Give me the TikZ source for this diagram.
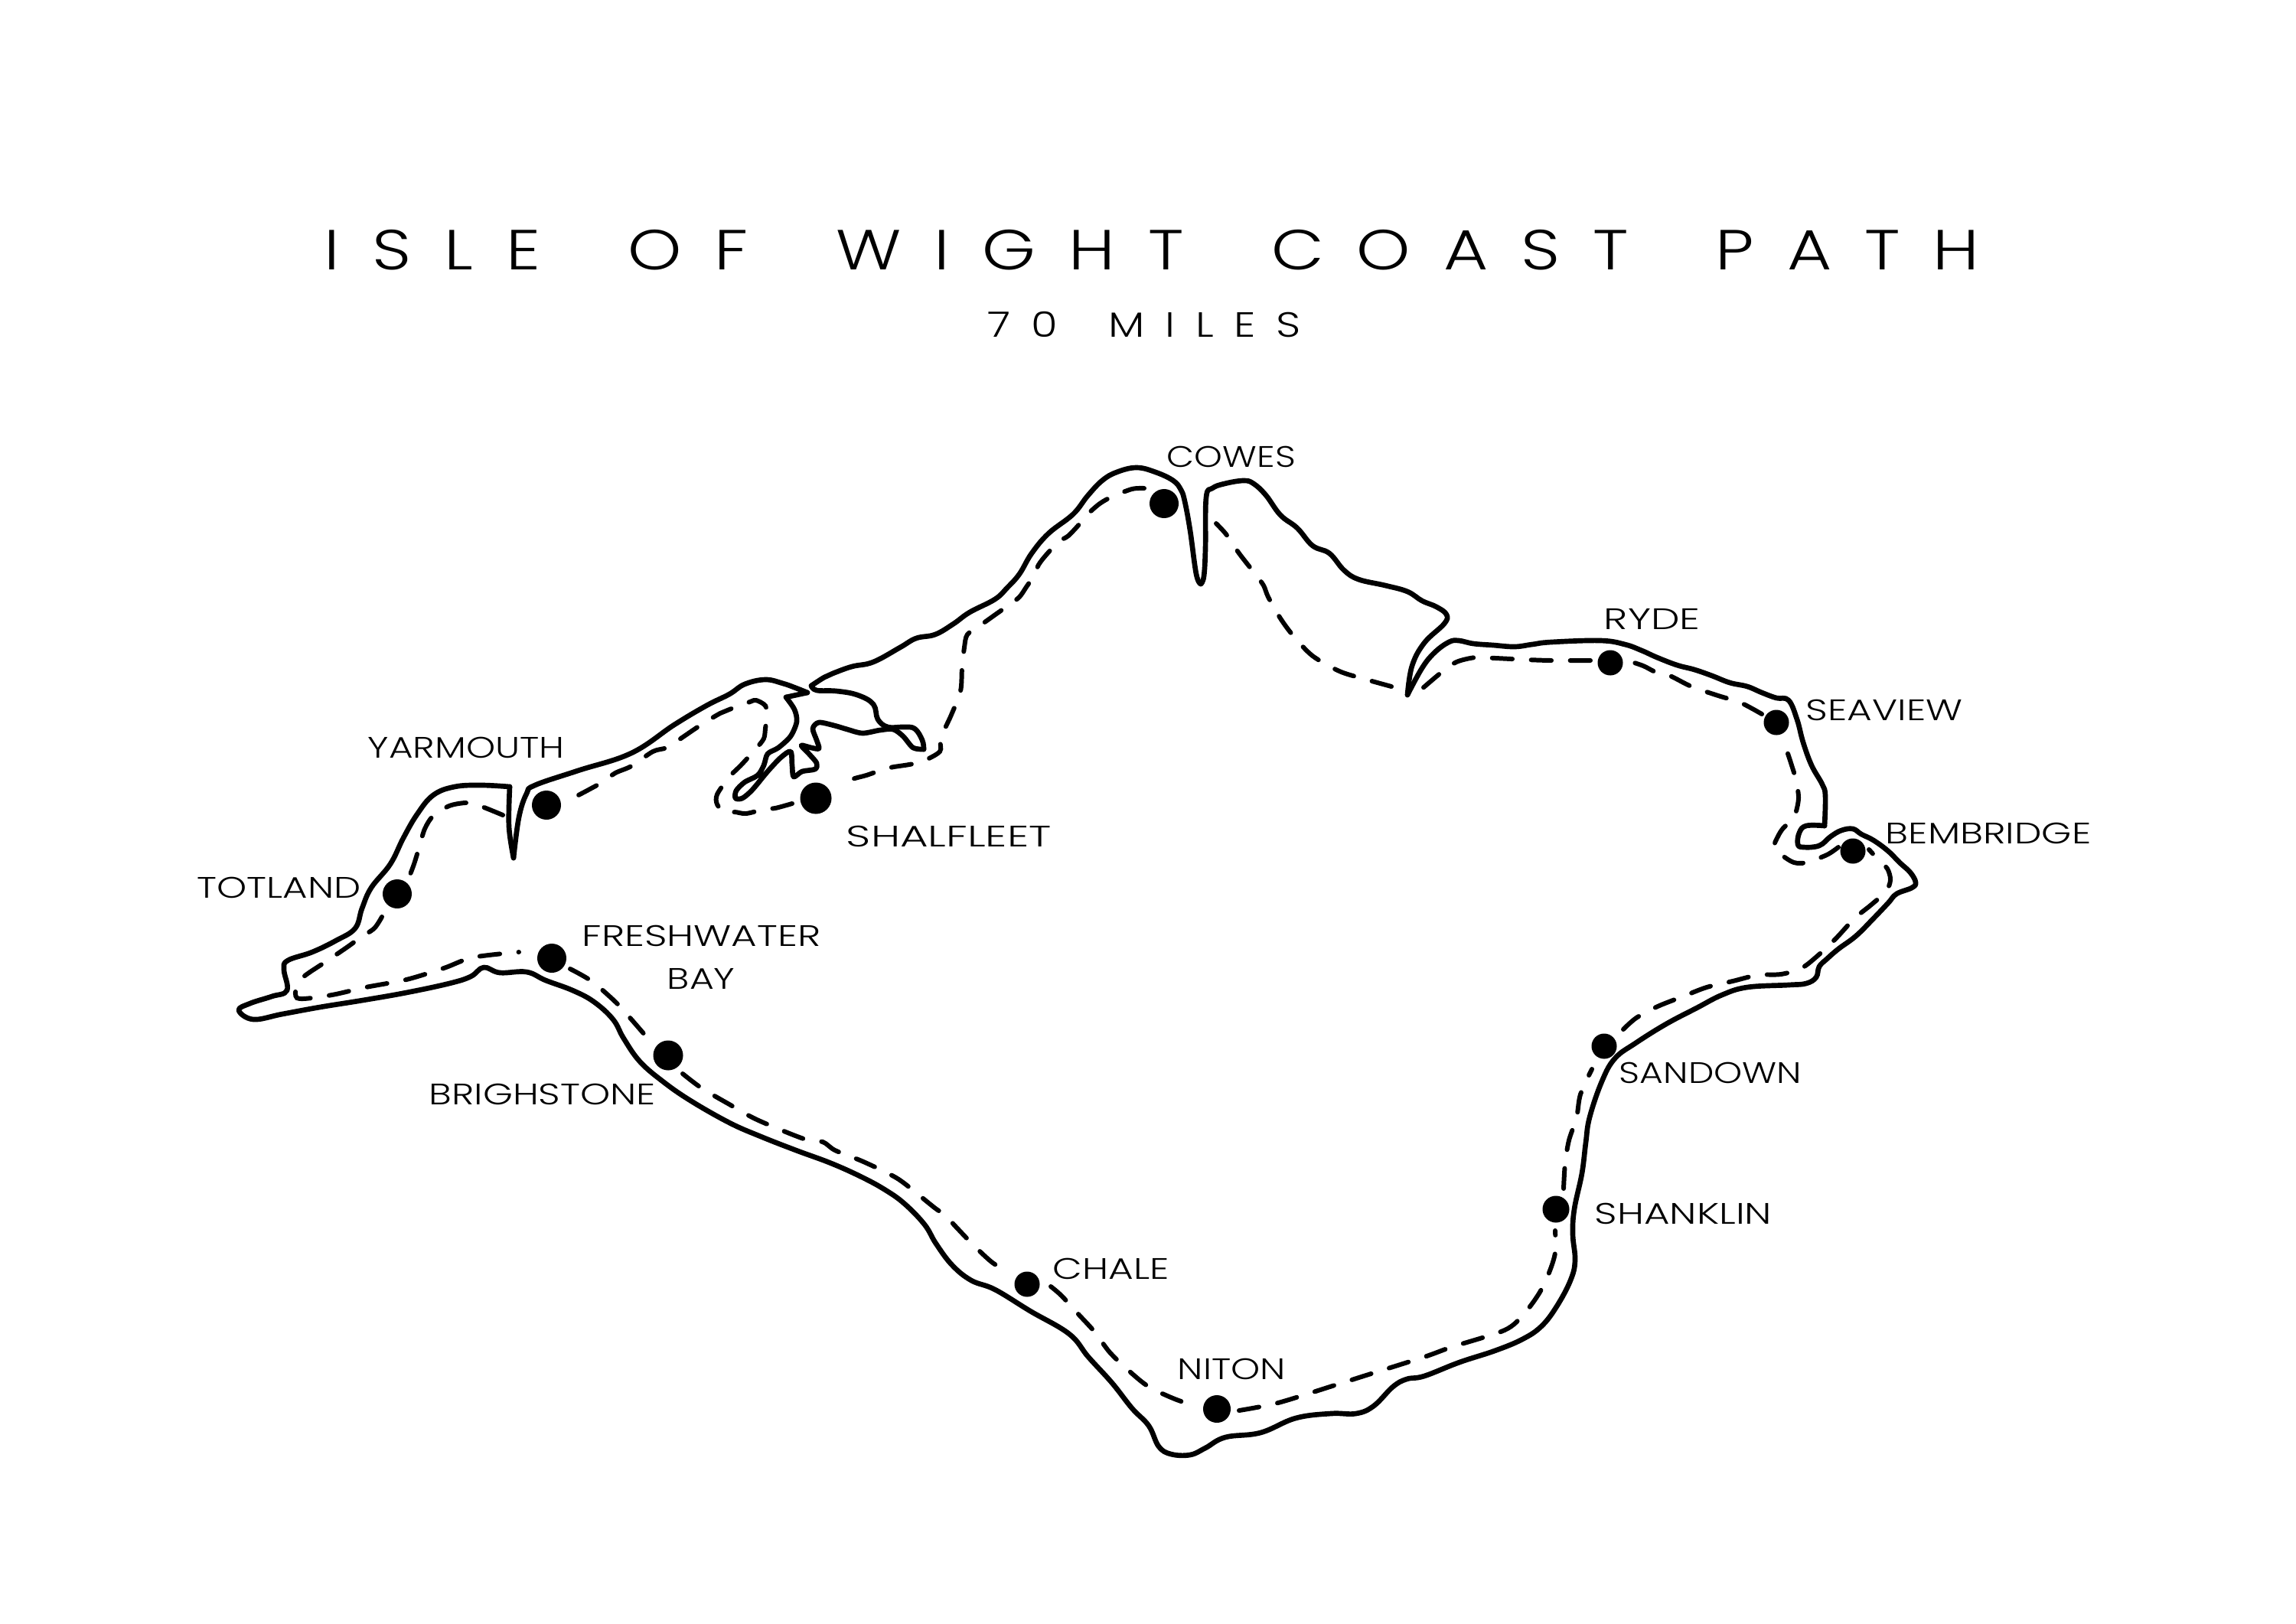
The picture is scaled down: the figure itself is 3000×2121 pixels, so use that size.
\documentclass[tikz,border=0pt]{standalone}
\usepackage{fontspec}
\newfontfamily\placefont{Poppins Light}[FakeStretch=1.1]
\newfontfamily\headfont{Poppins Light}[FakeStretch=1.21,LetterSpace=58,WordSpace=1.7]
\newfontfamily\subheadfont{Poppins Light}[FakeStretch=1.23,LetterSpace=58,WordSpace=1.6]
\tikzset{
  coastline/.style={line width=1.9pt,line cap=round,line join=round},
  routedash/.style={line width=1.7pt,line cap=round,dash pattern=on 7.5pt off 7pt},
  stopdot/.style={circle,fill=black,inner sep=0pt,minimum size=#1},
  placelabel/.style={anchor=base west,inner sep=0pt,transform shape,xscale=#1,font=\placefont\fontsize{11}{13}\selectfont},
}
\begin{document}
\begin{tikzpicture}[x=0.01cm,y=-0.01cm]
        \useasboundingbox (0,0) rectangle (3000,2121);
        % title
        \node[anchor=base west,inner sep=0pt,font=\headfont\fontsize{21}{25}\selectfont] (title) at (423,352) {ISLE OF WIGHT COAST PATH};
        \node[anchor=base west,inner sep=0pt,font=\subheadfont\fontsize{13}{16}\selectfont] (miles) at (1290,440) {70 MILES};
        % coast
        \draw[coastline] plot[smooth,tension=0.6] coordinates {(671,1121) (665,1080) (666,1028)};
        \draw[coastline] plot[smooth,tension=0.65] coordinates {(666,1028) (629,1026) (594,1028) (566,1039) (545,1064) (527,1095) (510,1129) (485,1160) (473,1187) (464,1213) (439,1229) (408,1244) (376,1255) (371,1267) (375,1294) (355,1302) (327,1311) (312,1320) (331,1332) (369,1325) (418,1316) (474,1307) (531,1297) (587,1285) (615,1276) (632,1264) (653,1271) (688,1270) (713,1281) (748,1294) (776,1309) (801,1332) (815,1357) (836,1387) (866,1413) (902,1438) (953,1467) (994,1485) (1040,1503) (1086,1520) (1126,1538) (1157,1555) (1182,1573) (1208,1600) (1223,1625) (1244,1653) (1269,1673) (1300,1685) (1346,1713) (1397,1743) (1422,1773) (1453,1807) (1479,1840) (1501,1863) (1514,1890) (1530,1900) (1555,1901) (1575,1892) (1601,1878) (1647,1872) (1693,1853) (1739,1847) (1772,1847) (1795,1837) (1820,1812) (1838,1802) (1861,1798) (1907,1780) (1953,1765) (1989,1750) (2014,1733) (2034,1707) (2052,1673) (2058,1647) (2055,1613) (2057,1580) (2067,1533) (2072,1493) (2077,1460) (2093,1413) (2110,1383) (2137,1363) (2177,1338) (2217,1317) (2250,1300) (2283,1290) (2337,1287) (2360,1285) (2373,1277) (2377,1263) (2387,1253) (2402,1240) (2425,1223) (2448,1200) (2467,1180) (2478,1168) (2498,1160) (2503,1153) (2496,1140) (2482,1127) (2467,1112) (2448,1098) (2432,1090) (2421,1083) (2406,1085) (2392,1093) (2377,1105) (2356,1107) (2349,1103) (2351,1088) (2360,1079) (2384,1079)};
        \draw[coastline] plot[smooth,tension=0.65] coordinates {(2384,1079) (2385,1040) (2381,1025) (2367,1000) (2356,970) (2348,940) (2337,915) (2321,912) (2302,905) (2283,897) (2260,892) (2237,883) (2214,875) (2191,869) (2165,859) (2145,850) (2123,842) (2091,837) (2027,839) (2002,842) (1979,845) (1951,843) (1925,841) (1906,837) (1893,839) (1874,853) (1858,873) (1839,908)};
        \draw[coastline] plot[smooth,tension=0.65] coordinates {(1839,908) (1845,870) (1861,840) (1887,815) (1890,803) (1877,793) (1858,785) (1839,773) (1810,765) (1775,757) (1756,745) (1737,723) (1715,713) (1695,690) (1673,673) (1654,647) (1638,632) (1625,628) (1600,632) (1584,638) (1576,650) (1575,717) (1573,753) (1569,763)};
        \draw[coastline] plot[smooth,tension=0.65] coordinates {(1569,763) (1563,750) (1555,693) (1548,655) (1543,640) (1533,628) (1510,617) (1485,611) (1459,617) (1440,628) (1421,648) (1402,672) (1370,697) (1348,723) (1332,750) (1316,768) (1300,783) (1267,800) (1246,815) (1222,829) (1197,834) (1176,846) (1141,865) (1113,871) (1088,880) (1077,885) (1060,896)};
        \draw[coastline] plot[smooth,tension=0.65] coordinates {(1060,896) (1067,902) (1093,903) (1120,908) (1141,920) (1147,940) (1160,950) (1180,950) (1195,952) (1205,967) (1207,979)};
        \draw[coastline] plot[smooth,tension=0.5] coordinates {(1207,979) (1193,977) (1180,962) (1167,953) (1150,954) (1127,958) (1107,953) (1090,948) (1070,944) (1062,952) (1067,967) (1070,978) (1060,977) (1047,974) (1057,985) (1067,997) (1065,1005) (1048,1008) (1037,1015) (1035,1000) (1033,982) (1020,990) (1003,1008) (983,1032) (970,1043) (961,1043) (962,1033) (973,1022) (990,1013) (998,1000) (1003,985) (1017,977) (1033,962) (1041,943) (1038,927) (1027,911)};
        \draw[coastline] (1027,911) -- (1055,905);
        \draw[coastline] plot[smooth,tension=0.65] coordinates {(1055,905) (1040,899) (1023,893) (1000,888) (973,894) (953,907) (923,922) (881,947) (825,984) (755,1007) (699,1026) (688,1037) (678,1068) (671,1121)};
        % route
        \draw[routedash] plot[smooth] coordinates {(657,1065) (622,1051) (608,1049) (587,1053) (566,1066) (555,1083) (548,1106) (541,1129) (533,1150)};
        \draw[routedash] plot[smooth] coordinates {(499,1198) (489,1213) (471,1225) (453,1238) (425,1257) (397,1276) (387,1290) (388,1304) (408,1304) (439,1299) (478,1290) (531,1280) (580,1265) (618,1251) (678,1244)};
        \draw[routedash] plot[smooth] coordinates {(745,1266) (773,1282) (804,1309) (825,1332) (850,1361)};
        \draw[routedash] plot[smooth] coordinates {(892,1403) (917,1422) (953,1443) (989,1463) (1050,1488) (1075,1492) (1091,1503) (1126,1517) (1160,1533) (1180,1545) (1221,1578) (1234,1587) (1249,1603) (1272,1627) (1297,1650) (1320,1663)};
        \draw[routedash] plot[smooth] coordinates {(1373,1681) (1387,1693) (1407,1715) (1430,1740) (1450,1767) (1476,1792) (1501,1812) (1535,1828) (1565,1838)};
        \draw[routedash] plot[smooth] coordinates {(1619,1843) (1670,1833) (1744,1810) (1785,1797) (1861,1773) (1897,1760) (1966,1738) (1991,1717) (2011,1690) (2024,1663) (2032,1637) (2032,1608)};
        \draw[routedash] plot[smooth] coordinates {(2043,1553) (2045,1520) (2050,1490) (2060,1460) (2065,1430) (2080,1397)};
        \draw[routedash] plot[smooth] coordinates {(2121,1345) (2138,1330) (2166,1315) (2199,1302) (2230,1290) (2264,1282) (2297,1274) (2327,1273) (2354,1265) (2377,1247) (2400,1225) (2423,1200) (2444,1183) (2464,1165) (2470,1150) (2466,1135) (2453,1122) (2442,1110)};
        \draw[routedash] plot[smooth] coordinates {(2402,1107) (2387,1117) (2360,1127) (2344,1127) (2329,1118) (2318,1107) (2323,1093) (2330,1082) (2344,1068) (2350,1043) (2346,1017) (2341,1000) (2335,982) (2327,963)};
        \draw[routedash] plot[smooth] coordinates {(2302,933) (2274,918) (2245,909) (2210,897) (2182,883) (2163,878) (2147,870) (2126,863)};
        \draw[routedash] plot[smooth] coordinates {(2078,863) (2027,863) (1995,862) (1954,860) (1928,859) (1903,865) (1884,878) (1858,900)};
        \draw[routedash] plot[smooth] coordinates {(1818,897) (1782,887) (1750,877) (1715,857) (1690,831) (1673,808) (1657,780) (1651,765) (1640,750) (1619,723) (1602,698) (1589,684)};
        \draw[routedash] plot[smooth] coordinates {(1495,638) (1479,639) (1453,649) (1437,658) (1421,672) (1412,683) (1396,700) (1383,708) (1367,725) (1357,738) (1351,752) (1341,767) (1332,780) (1319,790) (1302,802) (1281,817) (1264,829) (1260,846) (1257,873) (1255,903) (1243,934) (1229,965) (1228,982) (1205,995) (1188,999) (1168,1002) (1158,1004) (1132,1013) (1117,1017) (1098,1024)};
        \draw[routedash] plot[smooth] coordinates {(1035,1050) (1013,1056) (1000,1057) (975,1063) (960,1061) (947,1062) (937,1051) (937,1038) (953,1015) (968,1000) (988,978) (998,965) (1000,952) (1002,935) (1000,922) (988,915) (980,917) (953,927) (941,932) (916,947) (888,966) (871,977) (853,982) (825,1001) (804,1010) (787,1022) (769,1032) (752,1041)};
        % stops
        \node[stopdot=0.38cm] (totland) at (519,1168) {};
        \node[stopdot=0.38cm] (yarmouth) at (714,1052) {};
        \node[stopdot=0.41cm] (shalfleet) at (1066,1043) {};
        \node[stopdot=0.38cm] (freshwater) at (721,1252) {};
        \node[stopdot=0.39cm] (brighstone) at (873,1379) {};
        \node[stopdot=0.33cm] (chale) at (1342,1678) {};
        \node[stopdot=0.36cm] (niton) at (1590,1841) {};
        \node[stopdot=0.35cm] (shanklin) at (2033,1580) {};
        \node[stopdot=0.33cm] (sandown) at (2096,1367) {};
        \node[stopdot=0.33cm] (seaview) at (2321,944) {};
        \node[stopdot=0.33cm] (bembridge) at (2421,1112) {};
        \node[stopdot=0.33cm] (ryde) at (2104,866) {};
        \node[stopdot=0.38cm] (cowes) at (1521,658) {};
        % labels
        \node[placelabel=1.17] (totlandlabel) at (257,1173) {TOTLAND};
        \node[placelabel=1.14] (yarmouthlabel) at (480,990) {YARMOUTH};
        \node[placelabel=1.32] (shalfleetlabel) at (1105,1106) {SHALFLEET};
        \node[placelabel=1.21] (freshwaterlabel) at (760,1236) {FRESHWATER};
        \node[placelabel=1.15] (baylabel) at (871,1292) {BAY};
        \node[placelabel=1.17] (brighstonelabel) at (560,1443) {BRIGHSTONE};
        \node[placelabel=1.18] (chalelabel) at (1375,1671) {CHALE};
        \node[placelabel=1.14] (nitonlabel) at (1538,1802) {NITON};
        \node[placelabel=1.10] (coweslabel) at (1524,610) {COWES};
        \node[placelabel=1.25] (rydelabel) at (2095,822) {RYDE};
        \node[placelabel=1.18] (seaviewlabel) at (2359,941) {SEAVIEW};
        \node[placelabel=1.18] (bembridgelabel) at (2463,1102) {BEMBRIDGE};
        \node[placelabel=1.11] (sandownlabel) at (2115,1415) {SANDOWN};
        \node[placelabel=1.21] (shanklinlabel) at (2083,1599) {SHANKLIN};
\end{tikzpicture}
\end{document}
